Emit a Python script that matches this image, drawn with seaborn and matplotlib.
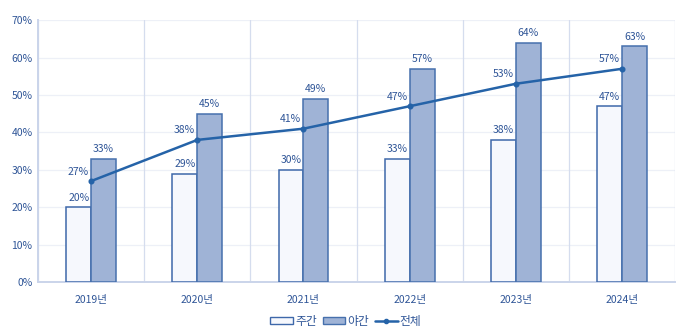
import matplotlib
matplotlib.use("Agg")
import matplotlib.pyplot as plt
from matplotlib.patches import Patch
from matplotlib.lines import Line2D
import seaborn as sns
import pandas as pd

years = ["2019년", "2020년", "2021년", "2022년", "2023년", "2024년"]
day = [20, 29, 30, 33, 38, 47]
night = [33, 45, 49, 57, 64, 63]
total = [27, 38, 41, 47, 53, 57]
series_names = ["주간", "야간", "전체"]
yticks = [0, 10, 20, 30, 40, 50, 60, 70]

TEXT = "#2F5597"
DAY_FILL, DAY_EDGE = "#F6F8FD", "#3E68AA"
NIGHT_FILL, NIGHT_EDGE = "#9FB3D6", "#4670AD"
LINE = "#2563A8"

sns.set_theme(style="white")
plt.rcParams["font.family"] = ["Noto Sans CJK KR", "DejaVu Sans"]

df = pd.DataFrame({
    "year": years * 2,
    "value": day + night,
    "kind": [series_names[0]] * len(years) + [series_names[1]] * len(years),
})

fig = plt.figure(figsize=(6.85, 3.30), dpi=100)
ax = fig.add_axes([0.0555, 0.145, 0.930, 0.794])

sns.barplot(data=df, x="year", y="value", hue="kind",
            palette=[DAY_FILL, NIGHT_FILL], saturation=1, width=0.47, gap=0,
            edgecolor=DAY_EDGE, linewidth=1.1, legend=False, ax=ax, zorder=3)
for patch, kind in zip(ax.patches, df["kind"]):
    patch.set_edgecolor(DAY_EDGE if kind == series_names[0] else NIGHT_EDGE)

sns.pointplot(x=years, y=total, color=LINE, markers="o", markersize=3,
              linewidth=1.8, ax=ax, zorder=5)

# value labels
for patch, val in zip(ax.patches, df["value"]):
    ax.text(patch.get_x() + patch.get_width() / 2, val + 1.2, f"{val}%",
            ha="center", va="bottom", fontsize=7.5, color=TEXT, zorder=6)
for i, val in enumerate(total):
    ax.text(i - 0.12, val + 1.2, f"{val}%", ha="center", va="bottom",
            fontsize=7.5, color=TEXT, zorder=6)

ax.set_xlim(-0.5, len(years) - 0.5)
ax.set_ylim(0, 70)
ax.set_yticks(yticks)
ax.set_yticklabels([f"{t}%" for t in yticks])
ax.set_xlabel("")
ax.set_ylabel("")

# grid: horizontal value lines, vertical category separators
for t in yticks[1:]:
    ax.axhline(t, color="#EDF0F7", linewidth=0.9, zorder=0)
for b in range(len(years) + 1):
    ax.axvline(b - 0.5, color="#D5DDEE", linewidth=0.9, zorder=0)

for side in ["top", "right"]:
    ax.spines[side].set_visible(False)
ax.spines["left"].set_color("#CAD4EA")
ax.spines["left"].set_linewidth(1.4)
ax.spines["bottom"].set_color("#CAD4EA")
ax.spines["bottom"].set_linewidth(1.4)

ax.tick_params(axis="both", length=0, labelsize=7.5, labelcolor=TEXT)
ax.tick_params(axis="x", pad=9)
ax.tick_params(axis="y", pad=4)

handles = [
    Patch(facecolor=DAY_FILL, edgecolor=DAY_EDGE, linewidth=1.0),
    Patch(facecolor=NIGHT_FILL, edgecolor=NIGHT_EDGE, linewidth=1.0),
    Line2D([0], [0], color=LINE, linewidth=1.8, marker="o", markersize=3),
]
fig.legend(handles, series_names, loc="lower center", bbox_to_anchor=(0.505, -0.025),
           ncol=3, frameon=False, fontsize=8.5, labelcolor=TEXT,
           handlelength=1.9, handleheight=0.6, handletextpad=0.2,
           columnspacing=0.5)

fig.savefig("out.png", dpi=100)
